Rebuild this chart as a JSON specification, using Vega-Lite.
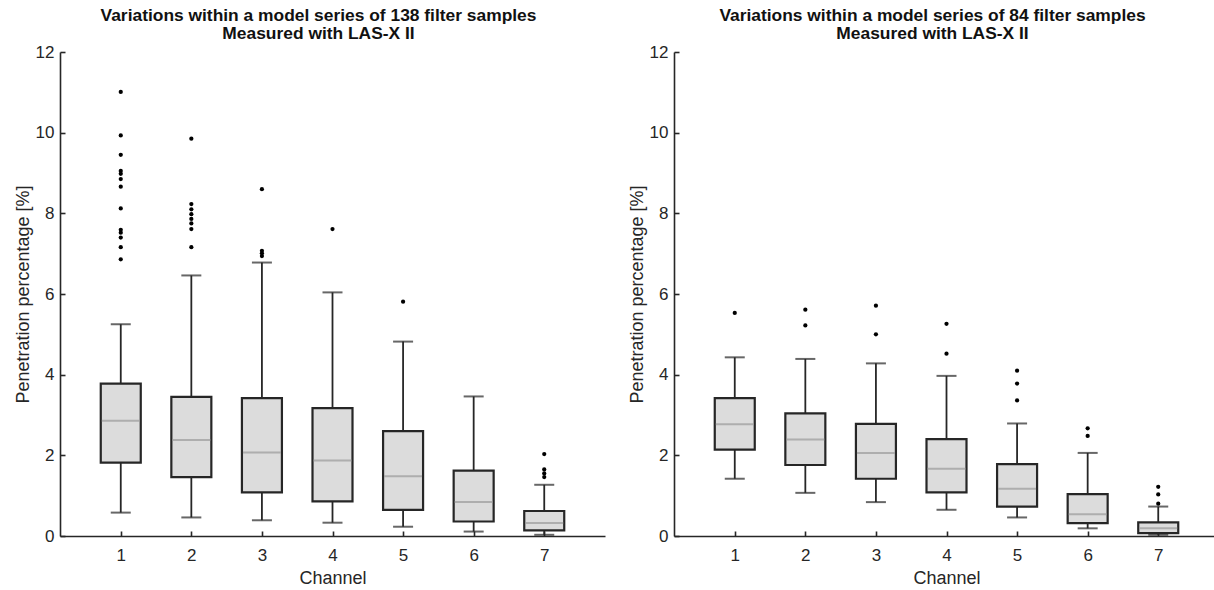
{
  "$schema": "https://vega.github.io/schema/vega-lite/v6.json",
  "padding": {"left": 14, "top": 6, "right": 0, "bottom": 0},
  "background": "white",
  "config": {
    "font": "Liberation Sans",
    "view": {"stroke": null},
    "axis": {
      "grid": false,
      "domainColor": "#262626",
      "domainWidth": 1.6,
      "tickColor": "#262626",
      "tickWidth": 1.6,
      "tickSize": -5,
      "labelColor": "#262626",
      "labelFontSize": 17,
      "labelFont": "Liberation Sans",
      "titleColor": "#262626",
      "titleFontSize": 18,
      "titleFontWeight": "normal",
      "titleFont": "Liberation Sans"
    },
    "axisX": {"labelPadding": 16, "titlePadding": 6},
    "axisY": {"labelPadding": 11, "titlePadding": 3},
    "title": {"fontSize": 17.4, "fontWeight": "bold", "color": "#111111", "font": "Liberation Sans", "anchor": "middle", "lineHeight": 18}
  },
  "datasets": {
    "stats": [
      {"panel": "L", "channel": 1, "lo": 0.58, "q1": 1.82, "med": 2.86, "q3": 3.78, "hi": 5.25},
      {"panel": "L", "channel": 2, "lo": 0.46, "q1": 1.46, "med": 2.38, "q3": 3.45, "hi": 6.46},
      {"panel": "L", "channel": 3, "lo": 0.39, "q1": 1.08, "med": 2.07, "q3": 3.42, "hi": 6.78},
      {"panel": "L", "channel": 4, "lo": 0.33, "q1": 0.86, "med": 1.87, "q3": 3.17, "hi": 6.04},
      {"panel": "L", "channel": 5, "lo": 0.23, "q1": 0.65, "med": 1.48, "q3": 2.60, "hi": 4.82},
      {"panel": "L", "channel": 6, "lo": 0.11, "q1": 0.36, "med": 0.84, "q3": 1.62, "hi": 3.46},
      {"panel": "L", "channel": 7, "lo": 0.03, "q1": 0.14, "med": 0.32, "q3": 0.62, "hi": 1.27},
      {"panel": "R", "channel": 1, "lo": 1.42, "q1": 2.14, "med": 2.77, "q3": 3.42, "hi": 4.43},
      {"panel": "R", "channel": 2, "lo": 1.07, "q1": 1.76, "med": 2.39, "q3": 3.04, "hi": 4.39},
      {"panel": "R", "channel": 3, "lo": 0.84, "q1": 1.42, "med": 2.06, "q3": 2.78, "hi": 4.28},
      {"panel": "R", "channel": 4, "lo": 0.65, "q1": 1.08, "med": 1.67, "q3": 2.40, "hi": 3.97},
      {"panel": "R", "channel": 5, "lo": 0.46, "q1": 0.73, "med": 1.17, "q3": 1.78, "hi": 2.79},
      {"panel": "R", "channel": 6, "lo": 0.19, "q1": 0.32, "med": 0.54, "q3": 1.04, "hi": 2.06},
      {"panel": "R", "channel": 7, "lo": 0.03, "q1": 0.07, "med": 0.19, "q3": 0.34, "hi": 0.73}
    ],
    "outliers": [
      {"panel": "L", "channel": 1, "value": 11.01},
      {"panel": "L", "channel": 1, "value": 9.93},
      {"panel": "L", "channel": 1, "value": 9.45},
      {"panel": "L", "channel": 1, "value": 9.05},
      {"panel": "L", "channel": 1, "value": 8.98},
      {"panel": "L", "channel": 1, "value": 8.85},
      {"panel": "L", "channel": 1, "value": 8.66},
      {"panel": "L", "channel": 1, "value": 8.12},
      {"panel": "L", "channel": 1, "value": 7.59},
      {"panel": "L", "channel": 1, "value": 7.52},
      {"panel": "L", "channel": 1, "value": 7.40},
      {"panel": "L", "channel": 1, "value": 7.16},
      {"panel": "L", "channel": 1, "value": 6.86},
      {"panel": "L", "channel": 2, "value": 9.85},
      {"panel": "L", "channel": 2, "value": 8.23},
      {"panel": "L", "channel": 2, "value": 8.10},
      {"panel": "L", "channel": 2, "value": 7.98},
      {"panel": "L", "channel": 2, "value": 7.86},
      {"panel": "L", "channel": 2, "value": 7.75},
      {"panel": "L", "channel": 2, "value": 7.61},
      {"panel": "L", "channel": 2, "value": 7.16},
      {"panel": "L", "channel": 3, "value": 8.60},
      {"panel": "L", "channel": 3, "value": 7.07},
      {"panel": "L", "channel": 3, "value": 7.01},
      {"panel": "L", "channel": 3, "value": 6.94},
      {"panel": "L", "channel": 4, "value": 7.61},
      {"panel": "L", "channel": 5, "value": 5.81},
      {"panel": "L", "channel": 7, "value": 2.03},
      {"panel": "L", "channel": 7, "value": 1.65},
      {"panel": "L", "channel": 7, "value": 1.55},
      {"panel": "L", "channel": 7, "value": 1.46},
      {"panel": "R", "channel": 1, "value": 5.53},
      {"panel": "R", "channel": 2, "value": 5.61},
      {"panel": "R", "channel": 2, "value": 5.22},
      {"panel": "R", "channel": 3, "value": 5.71},
      {"panel": "R", "channel": 3, "value": 5.00},
      {"panel": "R", "channel": 4, "value": 5.26},
      {"panel": "R", "channel": 4, "value": 4.52},
      {"panel": "R", "channel": 5, "value": 4.10},
      {"panel": "R", "channel": 5, "value": 3.78},
      {"panel": "R", "channel": 5, "value": 3.36},
      {"panel": "R", "channel": 6, "value": 2.67},
      {"panel": "R", "channel": 6, "value": 2.48},
      {"panel": "R", "channel": 7, "value": 1.22},
      {"panel": "R", "channel": 7, "value": 1.03},
      {"panel": "R", "channel": 7, "value": 0.80}
    ]
  },
  "spacing": 23,
  "hconcat": [
    {
      "width": 545,
      "height": 484,
      "title": {"text": ["Variations within a model series of 138 filter samples", "Measured with LAS-X II"], "dx": -14, "offset": 1},
      "encoding": {
        "x": {"field": "channel", "type": "quantitative", "scale": {"domain": [0.21, 7.79], "nice": false, "zero": false}, "axis": {"values": [1, 2, 3, 4, 5, 6, 7], "title": "Channel"}}
      },
      "layer": [
        {
          "data": {"name": "stats"},
          "transform": [{"filter": "datum.panel === 'L'"}],
          "layer": [
            {"mark": {"type": "rule", "color": "#262626", "strokeWidth": 1.8}, "encoding": {"y": {"field": "lo", "type": "quantitative", "scale": {"domain": [0, 12], "nice": false}, "axis": {"values": [0, 2, 4, 6, 8, 10, 12], "title": "Penetration percentage [%]"}}, "y2": {"field": "hi"}}},
            {"mark": {"type": "bar", "width": 40, "fill": "#dcdcdc", "stroke": "#262626", "strokeWidth": 2.2}, "encoding": {"y": {"field": "q1", "type": "quantitative"}, "y2": {"field": "q3"}}},
            {"mark": {"type": "tick", "orient": "horizontal", "size": 38, "thickness": 2, "color": "#9a9a9a"}, "encoding": {"y": {"field": "med", "type": "quantitative"}}},
            {"mark": {"type": "tick", "orient": "horizontal", "size": 20, "thickness": 2, "color": "#262626"}, "encoding": {"y": {"field": "lo", "type": "quantitative"}}},
            {"mark": {"type": "tick", "orient": "horizontal", "size": 20, "thickness": 2, "color": "#262626"}, "encoding": {"y": {"field": "hi", "type": "quantitative"}}}
          ]
        },
        {
          "data": {"name": "outliers"},
          "transform": [{"filter": "datum.panel === 'L'"}],
          "mark": {"type": "point", "filled": true, "size": 18, "color": "#000000", "opacity": 1},
          "encoding": {"y": {"field": "value", "type": "quantitative"}}
        }
      ]
    },
    {
      "width": 545,
      "height": 484,
      "title": {"text": ["Variations within a model series of 84 filter samples", "Measured with LAS-X II"], "dx": -14, "offset": 1},
      "encoding": {
        "x": {"field": "channel", "type": "quantitative", "scale": {"domain": [0.21, 7.79], "nice": false, "zero": false}, "axis": {"values": [1, 2, 3, 4, 5, 6, 7], "title": "Channel"}}
      },
      "layer": [
        {
          "data": {"name": "stats"},
          "transform": [{"filter": "datum.panel === 'R'"}],
          "layer": [
            {"mark": {"type": "rule", "color": "#262626", "strokeWidth": 1.8}, "encoding": {"y": {"field": "lo", "type": "quantitative", "scale": {"domain": [0, 12], "nice": false}, "axis": {"values": [0, 2, 4, 6, 8, 10, 12], "title": "Penetration percentage [%]"}}, "y2": {"field": "hi"}}},
            {"mark": {"type": "bar", "width": 40, "fill": "#dcdcdc", "stroke": "#262626", "strokeWidth": 2.2}, "encoding": {"y": {"field": "q1", "type": "quantitative"}, "y2": {"field": "q3"}}},
            {"mark": {"type": "tick", "orient": "horizontal", "size": 38, "thickness": 2, "color": "#9a9a9a"}, "encoding": {"y": {"field": "med", "type": "quantitative"}}},
            {"mark": {"type": "tick", "orient": "horizontal", "size": 20, "thickness": 2, "color": "#262626"}, "encoding": {"y": {"field": "lo", "type": "quantitative"}}},
            {"mark": {"type": "tick", "orient": "horizontal", "size": 20, "thickness": 2, "color": "#262626"}, "encoding": {"y": {"field": "hi", "type": "quantitative"}}}
          ]
        },
        {
          "data": {"name": "outliers"},
          "transform": [{"filter": "datum.panel === 'R'"}],
          "mark": {"type": "point", "filled": true, "size": 18, "color": "#000000", "opacity": 1},
          "encoding": {"y": {"field": "value", "type": "quantitative"}}
        }
      ]
    }
  ]
}
